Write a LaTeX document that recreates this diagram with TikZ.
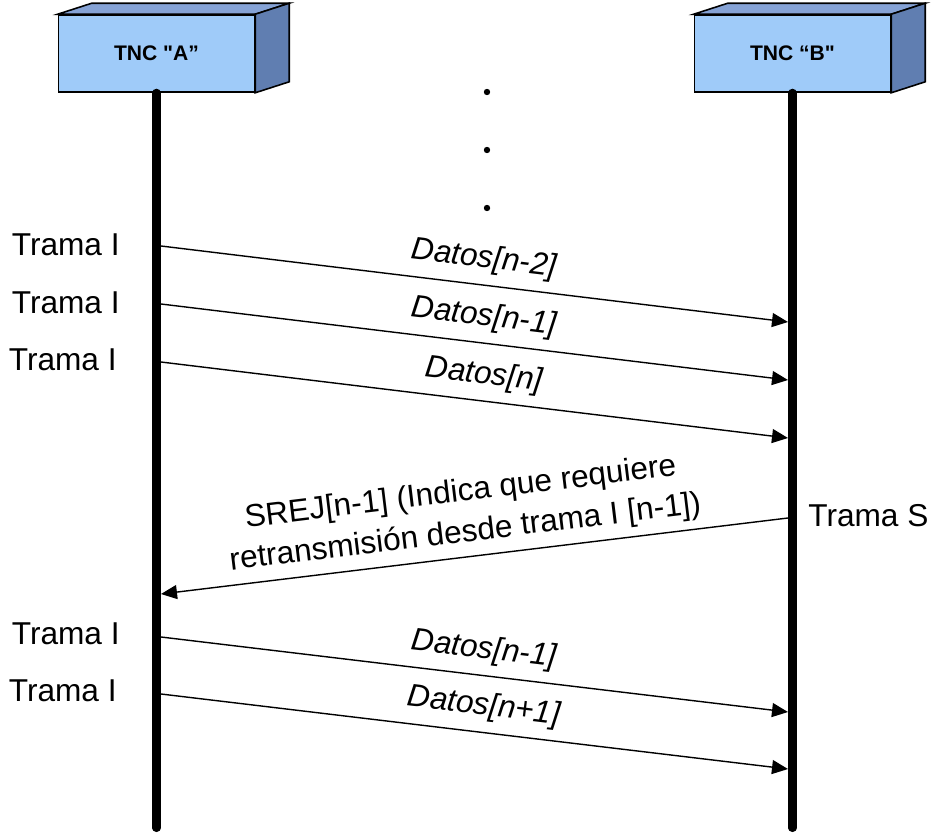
\documentclass[tikz,border=0pt]{standalone}
\usepackage{fontspec}
\setmainfont{Liberation Sans}
\usetikzlibrary{positioning, arrows.meta, calc}
\definecolor{tncfront}{HTML}{9FCBF9}
\definecolor{tnctop}{HTML}{86A3D6}
\definecolor{tncside}{HTML}{607EB1}

\begin{document}
\begin{tikzpicture}[
      x=0.02cm, y=-0.02cm,
      every node/.style={font=\fontsize{18}{21}\selectfont, inner sep=0pt},
      tnc/.style={draw, line width=0.9pt, fill=tncfront, minimum width=3.92cm,
        minimum height=1.54cm, font=\bfseries\fontsize{12}{14}\selectfont},
      lifeline/.style={line width=4.6pt, line cap=round},
      msg/.style={line width=0.8pt, -{Triangle[length=0.32cm, width=0.28cm]}},
      msgback/.style={line width=0.8pt, {Triangle[length=0.32cm, width=0.28cm]}-},
      dato/.style={sloped, above=0.2cm, pos=0.51, font=\itshape\fontsize{18}{21}\selectfont},
      trama/.style={anchor=east},
    ]
    \useasboundingbox (0,0) rectangle (933,835);

    % estaciones
    \node[tnc] (tncA) at (156.5,53.5) {TNC \textquotedbl A”};
    \node[tnc] (tncB) at (792.5,53.5) {TNC “B\textquotedbl};
    \foreach \b in {tncA,tncB}{
      \filldraw[fill=tnctop, line width=0.9pt] (\b.north west) -- ++(34,-11)
        -- ($(\b.north east)+(34,-11)$) -- (\b.north east) -- cycle;
      \filldraw[fill=tncside, line width=0.9pt] (\b.north east) -- ++(34,-11)
        -- ($(\b.south east)+(34,-11)$) -- (\b.south east) -- cycle;
    }

    \coordinate (endA) at (156.5,828);
    \coordinate (endB) at (792.5,828);
    \draw[lifeline] (tncA.south) -- (endA);
    \draw[lifeline] (tncB.south) -- (endB);

    \foreach \y in {92,150,208}
      \fill (487,\y) circle (3.2);

    % puntos de las tramas
    \coordinate (a1) at (161,246);  \coordinate (b1) at (788,322);
    \coordinate (a2) at (161,304);  \coordinate (b2) at (788,380);
    \coordinate (a3) at (161,362);  \coordinate (b3) at (788,438);
    \coordinate (a4) at (161,594);  \coordinate (b4) at (788,518);
    \coordinate (a5) at (161,637);  \coordinate (b5) at (788,712);
    \coordinate (a6) at (161,694);  \coordinate (b6) at (788,769);

    \draw[msg] (a1) -- (b1) node[dato] (d1) {Datos[n-2]};
    \draw[msg] (a2) -- (b2) node[dato] (d2) {Datos[n-1]};
    \draw[msg] (a3) -- (b3) node[dato] (d3) {Datos[n]};
    \draw[msgback] (a4) -- (b4) node[sloped, above=0.16cm, pos=0.49, align=center,
      font=\fontsize{18}{23}\selectfont] (srej)
      {SREJ[n-1] (Indica que requiere\\retransmisión desde trama I [n-1])};
    \draw[msg] (a5) -- (b5) node[dato] (d5) {Datos[n-1]};
    \draw[msg] (a6) -- (b6) node[dato] (d6) {Datos[n+1]};

    \node[trama] (t1) at (120,245) {Trama I};
    \node[trama] (t2) at (120,303) {Trama I};
    \node[trama] (t3) at (117,360) {Trama I};
    \node[trama] (t5) at (120,634) {Trama I};
    \node[trama] (t6) at (117,691) {Trama I};
    \node[anchor=west] (ts) at (808,516) {Trama S};
  \end{tikzpicture}
\end{document}
